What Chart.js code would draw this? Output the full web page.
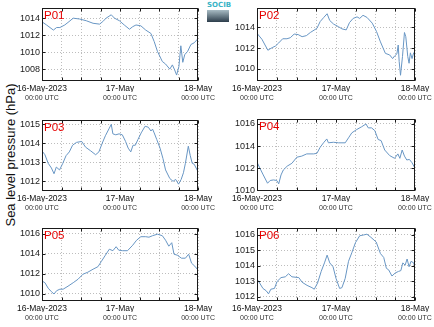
<!DOCTYPE html>
<html>
<head>
<meta charset="utf-8">
<script src="https://cdn.jsdelivr.net/npm/chart.js@4.4.1/dist/chart.umd.min.js"></script>
<style>
  body { margin: 0; background: #fff; width: 434px; height: 327px; overflow: hidden; position: relative; font-family: "Liberation Sans", Arial, sans-serif; }
  canvas { position: absolute; }
  #ytitle { position: absolute; left: 10px; top: 155px; transform: translate(-50%, -50%) rotate(-90deg); font-size: 13px; white-space: nowrap; color: #111; }
  #logo { position: absolute; left: 207px; top: 2px; width: 22px; }
  #logo .txt { font: bold 7px "DejaVu Sans", sans-serif; color: #3ab4c6; line-height: 7px; text-align: center; }
  #logo .bar { height: 12px; margin-top: 1px; background: linear-gradient(#a8bcc4, #2c3d4b); }
</style>
</head>
<body>
<div id="ytitle">Sea level pressure (hPa)</div>
<div id="logo"><div class="txt">SOCIB</div><div class="bar"></div></div>
<script>
// x values are hours after 16-May-2023 00:00 UTC
const hoursP01 = [0,1.4,3.5,4.5,5.5,7,8,9.6,11.6,13.6,15.7,17.7,18.7,19.7,21.3,22.3,23.8,25.3,26.9,27.9,28.9,30.4,31.9,33.5,34.5,35.5,37,38,39.3,40.1,40.8,41.4,42.1,42.7,43.3,43.9,44.8,45.8,46.8,48];
const pressureP01 = [1013.57,1013.2,1012.6,1012.9,1012.9,1013.2,1013.5,1014.0,1013.9,1013.7,1013.4,1013.3,1013.6,1014.0,1014.4,1014.0,1013.7,1013.2,1012.7,1013.0,1013.2,1013.1,1012.6,1012.2,1011.25,1010.1,1008.9,1008.6,1008.0,1008.5,1007.9,1007.3,1008.3,1010.75,1008.8,1009.7,1010.1,1010.9,1011.1,1011.6];

const hoursP02 = [0,1.5,3.3,4.6,5.6,6.6,7.8,9.1,10.1,11.3,12.5,13.7,15,16.2,18.2,19.2,20.3,21.3,22.1,23.3,24.8,25.8,27.1,28.1,29.2,30.4,31.2,32.2,33.4,35,36.3,37.5,39,40.3,41.2,41.8,42.5,42.9,43.2,43.6,44.2,44.8,45.2,45.8,46.2,46.6,47.1,47.6,48];
const pressureP02 = [1013.42,1012.85,1011.8,1012.05,1012.2,1012.5,1012.9,1012.9,1013.0,1013.35,1013.3,1013.1,1013.2,1013.5,1013.9,1014.55,1014.95,1015.3,1014.65,1014.3,1014.05,1013.85,1013.75,1014.45,1014.85,1015.0,1014.85,1015.15,1014.95,1014.4,1013.6,1012.6,1011.5,1011.35,1011.0,1011.25,1011.45,1012.3,1010.7,1009.4,1011.2,1013.5,1013.1,1011.2,1010.55,1011.55,1011.0,1011.55,1011.45];

const hoursP03 = [0,0.9,1.9,2.9,3.7,4.4,5.4,6.4,7.4,8.4,9.4,10.6,12.2,13.4,15,16.5,17.5,18.5,19.5,20.7,21.3,21.8,22.7,23.7,24.7,25.7,26.5,27.3,28,28.7,29.5,30.5,31.7,32.7,33.5,34,34.5,35.3,36.3,37.2,38,39.3,40.3,41.1,42,42.8,43.5,44.1,45,45.6,46.2,46.8,48];
const pressureP03 = [1013.6,1013.4,1012.95,1012.7,1012.4,1012.75,1012.6,1012.95,1013.35,1013.55,1013.9,1014.05,1014.1,1013.8,1013.6,1013.4,1013.55,1014.0,1014.4,1014.8,1015.0,1014.5,1014.45,1014.5,1014.45,1014.1,1013.75,1013.55,1013.9,1013.9,1014.2,1014.55,1014.9,1014.85,1014.65,1014.75,1014.55,1014.2,1013.75,1013.2,1012.6,1012.15,1012.0,1012.1,1011.85,1012.1,1012.45,1012.95,1013.85,1013.35,1012.95,1012.9,1012.5];

const hoursP04 = [0,0.9,1.9,3.2,4,5,6,6.6,7.3,8,9.2,10.6,12.1,13.6,15.1,17.2,18.2,19.2,20.2,21.2,21.7,23.2,24.8,26.8,27.8,28.8,30.3,31.8,33.1,33.8,34.8,35.8,36.8,37.7,38.8,40.3,41.8,42.8,43.4,44.1,44.8,45.5,46.3,47.1,48];
const pressureP04 = [1012.55,1012.0,1011.4,1010.65,1010.9,1010.95,1010.9,1010.6,1011.4,1011.85,1012.2,1012.45,1013.0,1013.1,1013.3,1013.3,1013.35,1013.9,1014.3,1014.65,1014.3,1014.35,1014.3,1014.3,1014.75,1015.2,1015.5,1015.75,1016.0,1015.65,1015.65,1015.4,1014.6,1014.5,1013.65,1013.15,1012.9,1013.3,1012.9,1013.65,1013.1,1012.75,1012.8,1012.5,1012.0];

const hoursP05 = [0,0.9,1.9,2.9,3.7,4.5,5.5,6.5,8,9.6,11.1,12.6,14.1,15.7,17.2,18.2,19.5,20.7,21.8,22.8,23.6,24.8,26.3,27.9,29.1,30.4,31.9,32.9,34,35.5,37,38,39,39.9,40.6,41.6,42.9,44.1,45.1,46,47,48];
const pressureP05 = [1011.27,1011.1,1010.55,1010.2,1009.97,1010.3,1010.45,1010.45,1010.75,1011.1,1011.45,1011.95,1012.15,1012.45,1012.7,1013.2,1013.85,1014.45,1014.3,1014.7,1014.35,1014.3,1014.3,1014.85,1015.35,1015.7,1015.7,1015.65,1015.8,1015.95,1015.8,1015.35,1014.75,1015.1,1013.95,1013.85,1013.55,1013.55,1013.95,1013.05,1012.75,1012.35];

const hoursP06 = [0,0.8,1.8,2.8,3.5,4.2,5.3,6.1,7.3,8.6,9.6,10.6,12.7,13.7,15.2,16.7,17.4,18.4,19.5,20.5,21.3,22.1,23.1,24,25.1,25.8,26.8,27.8,28.8,29.9,31.2,32.4,33.4,34.6,36.2,37.5,38.5,39.3,40,41,42,43,43.7,44.3,45,45.6,46.2,46.8,47.6,48];
const pressureP06 = [1013.15,1012.9,1012.55,1012.4,1012.2,1012.5,1012.55,1013.0,1013.25,1013.3,1013.5,1013.3,1013.25,1012.95,1012.75,1012.6,1012.5,1012.9,1013.65,1014.2,1014.7,1014.2,1013.95,1013.2,1012.55,1012.6,1013.2,1014.3,1014.85,1015.5,1015.95,1016.0,1016.05,1015.85,1015.55,1014.8,1014.55,1013.85,1013.75,1013.35,1013.55,1013.65,1013.7,1014.2,1014.05,1014.45,1013.95,1014.3,1014.2,1013.9];

// tick labels
const gridHours = [0, 6, 12, 18, 24, 30, 36, 42, 48];
const dayHours = [0, 24, 48];
const dayLabels = ['16-May-2023', '17-May', '18-May'];
const timeLabel = '00:00 UTC';

Chart.defaults.font.family = '"Liberation Sans", Arial, sans-serif';

// axis ranges + where each panel sits on the page
const panels = [
  { name: 'P01', hours: hoursP01, values: pressureP01, min: 1006.6, max: 1015.2, step: 2, x: 0, y: 0, h: 110, left: 42, padRight: 17, top: 8 },
  { name: 'P02', hours: hoursP02, values: pressureP02, min: 1008.85, max: 1015.85, step: 2, x: 217, y: 0, h: 110, left: 40, padRight: 19, top: 8 },
  { name: 'P03', hours: hoursP03, values: pressureP03, min: 1011.49, max: 1015.23, step: 1, x: 0, y: 110, h: 110, left: 42, padRight: 17, top: 10 },
  { name: 'P04', hours: hoursP04, values: pressureP04, min: 1009.95, max: 1016.45, step: 2, x: 217, y: 110, h: 110, left: 40, padRight: 19, top: 9 },
  { name: 'P05', hours: hoursP05, values: pressureP05, min: 1009.27, max: 1016.57, step: 2, x: 0, y: 220, h: 107, left: 42, padRight: 17, top: 8 },
  { name: 'P06', hours: hoursP06, values: pressureP06, min: 1011.74, max: 1016.45, step: 1, x: 217, y: 220, h: 107, left: 40, padRight: 19, top: 8 }
];

// box round the plot, small inward ticks, and the station name
const framePlugin = {
  id: 'frame',
  afterDatasetsDraw(chart, args, opts) {
    const { ctx, chartArea: a, scales } = chart;
    const l = Math.round(a.left) + 0.5, r = Math.round(a.right) - 0.5;
    const t = Math.round(a.top) + 0.5, b = Math.round(a.bottom) - 0.5;
    ctx.save();
    ctx.strokeStyle = '#1a1a1a';
    ctx.lineWidth = 1;
    ctx.strokeRect(l, t, r - l, b - t);
    ctx.beginPath();
    scales.x.ticks.forEach(tk => {
      const px = Math.round(scales.x.getPixelForValue(tk.value)) + 0.5;
      ctx.moveTo(px, b); ctx.lineTo(px, b - 3);
      ctx.moveTo(px, t); ctx.lineTo(px, t + 3);
    });
    scales.y.ticks.forEach(tk => {
      const py = Math.round(scales.y.getPixelForValue(tk.value)) + 0.5;
      ctx.moveTo(l, py); ctx.lineTo(l + 3, py);
      ctx.moveTo(r, py); ctx.lineTo(r - 3, py);
    });
    ctx.stroke();
    ctx.fillStyle = '#e60000';
    ctx.font = '11.5px "Liberation Sans", Arial, sans-serif';
    ctx.textBaseline = 'top';
    ctx.fillText(opts.name, a.left + 2, a.top + 2);
    ctx.restore();
  }
};

panels.forEach(p => {
  const canvas = document.createElement('canvas');
  canvas.width = 217;
  canvas.height = p.h;
  canvas.style.left = p.x + 'px';
  canvas.style.top = p.y + 'px';
  canvas.style.width = '217px';
  canvas.style.height = p.h + 'px';
  document.body.appendChild(canvas);

  const bottomSpace = p.h - 81;

  new Chart(canvas, {
    type: 'line',
    data: {
      datasets: [{
        data: p.hours.map((hr, i) => ({ x: hr, y: p.values[i] })),
        xAxisID: 'x',
        yAxisID: 'y',
        borderColor: '#6896c4',
        borderWidth: 1,
        pointRadius: 0,
        tension: 0,
        fill: false
      }]
    },
    options: {
      responsive: false,
      animation: false,
      layout: { padding: { left: 0, right: p.padRight, top: p.top, bottom: 0 } },
      plugins: {
        legend: { display: false },
        tooltip: { enabled: false },
        frame: { name: p.name }
      },
      scales: {
        x: {
          type: 'linear', position: 'bottom', min: 0, max: 48,
          afterBuildTicks: s => { s.ticks = gridHours.map(v => ({ value: v })); },
          afterFit: s => { s.height = 11; },
          ticks: {
            autoSkip: false, maxRotation: 0, padding: 3,
            font: { size: 8.5 }, color: '#111',
            callback: v => { const i = dayHours.indexOf(v); return i < 0 ? '' : dayLabels[i]; }
          },
          grid: { color: '#bdbdbd', drawTicks: false },
          border: { display: false, dash: [1, 2] }
        },
        x2: {
          type: 'linear', position: 'bottom', min: 0, max: 48,
          afterBuildTicks: s => { s.ticks = dayHours.map(v => ({ value: v })); },
          afterFit: s => { s.height = bottomSpace - 11; },
          ticks: {
            autoSkip: false, maxRotation: 0, padding: 2,
            font: { size: 7 }, color: '#333',
            callback: () => timeLabel
          },
          grid: { display: false, drawTicks: false },
          border: { display: false }
        },
        y: {
          min: p.min, max: p.max,
          afterBuildTicks: s => {
            const list = [];
            for (let v = Math.ceil(p.min / p.step) * p.step; v <= p.max; v += p.step) list.push({ value: v });
            s.ticks = list;
          },
          afterFit: s => { s.width = p.left; },
          ticks: {
            autoSkip: false, padding: 2, font: { size: 9 }, color: '#1a1a1a',
            callback: v => String(v)
          },
          grid: { color: '#bdbdbd', drawTicks: false },
          border: { display: false, dash: [1, 2] }
        }
      }
    },
    plugins: [framePlugin]
  });
});
</script>
</body>
</html>
